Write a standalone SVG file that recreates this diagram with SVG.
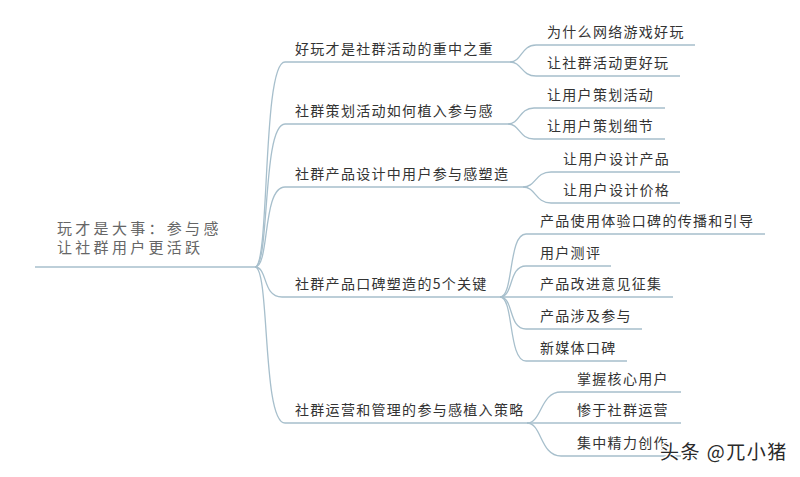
<svg xmlns="http://www.w3.org/2000/svg" width="800" height="477" viewBox="0 0 800 477">
<style>
.c{fill:none;stroke:#a7bfcc;stroke-width:1.3}
.t{font-family:"Noto Sans CJK SC","Noto Sans",sans-serif;font-size:14px;fill:#333;letter-spacing:1.3px}
.r{font-family:"Noto Sans CJK SC","Noto Sans",sans-serif;font-size:15px;fill:#666;letter-spacing:3.3px}
.w{font-family:"Noto Sans CJK SC","Noto Sans",sans-serif;font-size:19px;fill:#2a2a2a;stroke:#fff;stroke-width:2.5;paint-order:stroke;letter-spacing:1.5px}
</style>
<rect width="800" height="477" fill="#fff"/>
<g id="connectors">
<path class="c" d="M35,267 H255"/>
<path class="c" d="M255,267 C270,267 262,62 285,62 H510"/>
<path class="c" d="M255,267 C270,267 262,124 285,124 H508"/>
<path class="c" d="M255,267 C270,267 262,187 285,187 H523"/>
<path class="c" d="M255,267 C268,267 262,297 282,297 H500"/>
<path class="c" d="M255,267 C270,267 262,423 285,423 H527"/>
<path class="c" d="M510,62 C522,62 521,45 536,45 H695"/>
<path class="c" d="M510,62 C522,62 521,76 536,76 H680"/>
<path class="c" d="M508,124 C520,124 519,108 534,108 H665"/>
<path class="c" d="M508,124 C520,124 519,139 534,139 H665"/>
<path class="c" d="M523,187 C536,187 535,172 551,172 H680"/>
<path class="c" d="M523,187 C536,187 535,203 551,203 H680"/>
<path class="c" d="M500,297 C514,297 508,234 526,234 H765"/>
<path class="c" d="M500,297 C514,297 508,266 526,266 H611"/>
<path class="c" d="M500,297 H673"/>
<path class="c" d="M500,297 C514,297 508,329 526,329 H642"/>
<path class="c" d="M500,297 C514,297 508,361 526,361 H627"/>
<path class="c" d="M527,423 C542,423 540,392 561,392 H681"/>
<path class="c" d="M527,423 H681"/>
<path class="c" d="M527,423 C542,423 540,456 561,456 H681"/>
</g>
<g id="root">
<text class="r" x="57" y="234">玩才是大事：参与感</text>
<text class="r" x="57" y="253">让社群用户更活跃</text>
</g>
<g id="b1"><text class="t" x="295" y="54">好玩才是社群活动的重中之重</text></g>
<g id="b2"><text class="t" x="295" y="116">社群策划活动如何植入参与感</text></g>
<g id="b3"><text class="t" x="295" y="179">社群产品设计中用户参与感塑造</text></g>
<g id="b4"><text class="t" x="295" y="289">社群产品口碑塑造的5个关键</text></g>
<g id="b5"><text class="t" x="295" y="415">社群运营和管理的参与感植入策略</text></g>
<g id="b1c1"><text class="t" x="547" y="37">为什么网络游戏好玩</text></g>
<g id="b1c2"><text class="t" x="547" y="68">让社群活动更好玩</text></g>
<g id="b2c1"><text class="t" x="547" y="100">让用户策划活动</text></g>
<g id="b2c2"><text class="t" x="547" y="131">让用户策划细节</text></g>
<g id="b3c1"><text class="t" x="563" y="164">让用户设计产品</text></g>
<g id="b3c2"><text class="t" x="563" y="195">让用户设计价格</text></g>
<g id="b4c1"><text class="t" x="540" y="226">产品使用体验口碑的传播和引导</text></g>
<g id="b4c2"><text class="t" x="540" y="258">用户测评</text></g>
<g id="b4c3"><text class="t" x="540" y="289">产品改进意见征集</text></g>
<g id="b4c4"><text class="t" x="540" y="321">产品涉及参与</text></g>
<g id="b4c5"><text class="t" x="540" y="353">新媒体口碑</text></g>
<g id="b5c1"><text class="t" x="577" y="384">掌握核心用户</text></g>
<g id="b5c2"><text class="t" x="577" y="415">惨于社群运营</text></g>
<g id="b5c3"><text class="t" x="577" y="448">集中精力创作</text></g>
<text class="w" x="660" y="459">头条 @兀小猪</text>
</svg>
